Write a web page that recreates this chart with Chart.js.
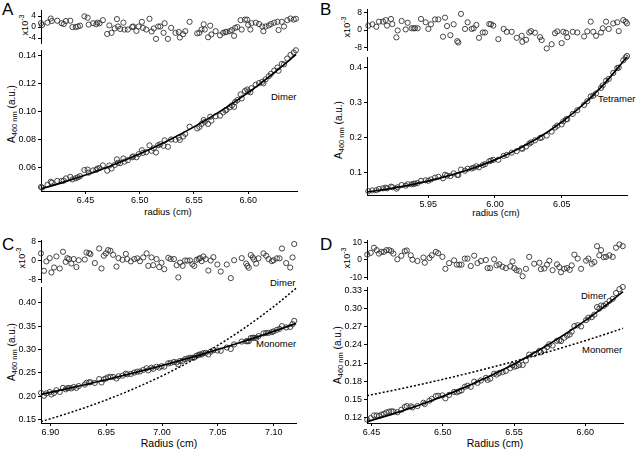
<!DOCTYPE html>
<html><head><meta charset="utf-8">
<script src="https://cdn.jsdelivr.net/npm/chart.js@4/dist/chart.umd.min.js"></script>
<style>
html,body{margin:0;padding:0;background:#fff;}
#fig{position:relative;width:636px;height:451px;overflow:hidden;font-family:"Liberation Sans",Arial,Helvetica,sans-serif;color:#000;}
canvas{position:absolute;}
.t{position:absolute;white-space:nowrap;line-height:1;}
.rot{transform:translate(-50%,-50%) rotate(-90deg);}
.ctr{transform:translate(-50%,-50%);}
.lbl{transform:translateY(-50%);font-size:9.5px;}
.pl{font-size:17px;}
.yt{font-size:10px;}
.yt sub{font-size:7.5px;vertical-align:-2px;}
.rt{font-size:9px;}
.rt sup{font-size:7px;vertical-align:4px;}
</style></head>
<body><div id="fig">
<div class="t pl" style="left:2px;top:1px">A</div>
<div class="t pl" style="left:320px;top:1px">B</div>
<div class="t pl" style="left:2px;top:236px">C</div>
<div class="t pl" style="left:320px;top:236px">D</div>

<div class="t rt rot" style="left:24px;top:25px">x10<sup>-3</sup></div>
<div class="t rt rot" style="left:346px;top:27px">x10<sup>-3</sup></div>
<div class="t rt rot" style="left:21px;top:258px">x10<sup>-3</sup></div>
<div class="t rt rot" style="left:346px;top:258px">x10<sup>-3</sup></div>

<div class="t yt rot" style="left:13px;top:114px">A<sub>460 nm</sub> (a.u.)</div>
<div class="t yt rot" style="left:340px;top:130px">A<sub>460 nm</sub> (a.u.)</div>
<div class="t yt rot" style="left:13px;top:352px">A<sub>460 nm</sub> (a.u.)</div>
<div class="t yt rot" style="left:339px;top:355px">A<sub>460 nm</sub> (a.u.)</div>

<div class="t ctr" style="left:168px;top:212px;font-size:9.5px">radius (cm)</div>
<div class="t ctr" style="left:496px;top:213px;font-size:9.5px">radius (cm)</div>
<div class="t ctr" style="left:169px;top:443px;font-size:10.5px">Radius (cm)</div>
<div class="t ctr" style="left:495px;top:443px;font-size:10.5px">Radius (cm)</div>

<div class="t lbl" style="left:271px;top:97px">Dimer</div>
<div class="t lbl" style="left:598px;top:99px">Tetramer</div>
<div class="t lbl" style="left:270px;top:283px">Dimer</div>
<div class="t lbl" style="left:256px;top:344px">Monomer</div>
<div class="t lbl" style="left:581px;top:296px">Dimer</div>
<div class="t lbl" style="left:582px;top:350px">Monomer</div>
</div>
<script>
// ---------------- Panel A (dimer) ----------------
const aRadius = [6.409,6.410,6.415,6.418,6.419,6.424,6.428,6.430,6.432,6.436,
 6.438,6.441,6.443,6.445,6.449,6.452,6.453,6.457,6.460,6.461,
 6.463,6.466,6.470,6.472,6.474,6.477,6.479,6.480,6.482,6.485,
 6.486,6.489,6.493,6.494,6.497,6.499,6.502,6.503,6.506,6.509,
 6.511,6.513,6.515,6.517,6.519,6.522,6.523,6.526,6.529,6.533,
 6.536,6.537,6.540,6.542,6.546,6.553,6.555,6.557,6.559,6.560,
 6.563,6.565,6.566,6.570,6.574,6.577,6.579,6.580,6.583,6.585,
 6.587,6.588,6.590,6.593,6.594,6.597,6.599,6.600,6.602,6.603,
 6.607,6.610,6.613,6.614,6.616,6.619,6.621,6.624,6.627,6.628,
 6.631,6.633,6.636,6.639,6.642,6.644];
const aResidual = [1.4,0.7,1.6,3.1,2.2,2.3,1.4,1.1,2.2,2.3,
 0.0,0.0,0.2,0.5,3.9,3.4,0.9,1.4,1.0,1.6,
 1.4,2.5,-2.5,0.6,-2.1,-0.5,2.9,0.2,-0.7,1.6,
 -0.9,-0.9,0.0,0.2,-1.4,0.2,1.9,-0.3,-0.9,3.0,
 -1.6,-0.5,-4.3,0.2,0.2,-2.1,1.4,-4.3,-0.3,-2.1,
 -1.8,-3.8,-2.6,-1.5,1.9,-2.3,-2.1,-0.9,1.0,-0.9,
 -3.7,0.5,-2.7,-1.5,-3.0,-2.1,-1.8,-1.8,-1.5,-1.1,
 -3.2,-0.3,0.0,2.5,-0.9,2.7,2.7,0.8,-0.9,1.4,
 1.6,1.1,0.2,-1.5,0.2,0.6,1.1,1.6,1.9,-1.1,
 1.9,0.2,2.5,3.1,2.7,3.0];
const aAbsorbance = [0.0460,0.0455,0.0475,0.0497,0.0490,0.0503,0.0503,0.0505,0.0521,0.0532,
 0.0514,0.0522,0.0529,0.0537,0.0581,0.0584,0.0562,0.0578,0.0582,0.0591,
 0.0595,0.0614,0.0576,0.0613,0.0592,0.0617,0.0657,0.0633,0.0630,0.0663,
 0.0641,0.0651,0.0672,0.0678,0.0672,0.0694,0.0722,0.0703,0.0708,0.0757,
 0.0718,0.0736,0.0706,0.0758,0.0765,0.0754,0.0793,0.0747,0.0799,0.0797,
 0.0812,0.0796,0.0820,0.0839,0.0890,0.0878,0.0889,0.0910,0.0938,0.0924,
 0.0910,0.0961,0.0934,0.0965,0.0969,0.0993,0.1006,0.1011,0.1029,0.1043,
 0.1032,0.1067,0.1080,0.1121,0.1092,0.1145,0.1156,0.1142,0.1136,0.1165,
 0.1190,0.1202,0.1211,0.1200,0.1228,0.1251,0.1268,0.1291,0.1313,0.1290,
 0.1339,0.1335,0.1377,0.1403,0.1420,0.1436];
const aFitX = [6.409,6.43,6.45,6.47,6.49,6.51,6.53,6.55,6.57,6.59,6.61,6.63,6.644];
const aFitDimer = [0.0446,0.0494,0.0545,0.0601,0.0663,0.0731,0.0806,0.0889,0.0980,0.1080,0.1191,0.1314,0.1406];
const aXTicks = [6.45,6.50,6.55,6.60];
const aYTicks = [0.06,0.08,0.10,0.12,0.14];
const aResTicks = [-4,0,4];

// ---------------- Panel B (tetramer) ----------------
const bRadius = [5.905,5.908,5.911,5.913,5.916,5.918,5.919,5.922,5.923,5.926,
 5.927,5.930,5.933,5.9345,5.9375,5.939,5.940,5.942,5.9445,5.948,
 5.950,5.952,5.955,5.9575,5.961,5.9625,5.964,5.9665,5.969,5.9717,
 5.9725,5.9745,5.9775,5.9795,5.9825,5.984,5.986,5.988,5.9908,5.9925,
 5.9957,5.997,5.9987,6.0025,6.0065,6.0088,6.0125,6.0163,6.020,6.0205,
 6.0233,6.0257,6.027,6.030,6.0338,6.035,6.0388,6.0425,6.045,6.0467,
 6.050,6.0512,6.0533,6.0542,6.0583,6.0617,6.0668,6.0692,6.0718,6.0737,
 6.0758,6.0795,6.0808,6.0833,6.0853,6.0887,6.0917,6.0928,6.0962,6.098,
 6.099];
const bResidual = [2.0,2.6,1.5,3.8,3.8,4.5,2.0,5.0,2.7,-3.3,
 -0.2,4.1,0.3,3.3,0.8,0.8,0.8,0.8,5.0,3.5,
 0.5,2.6,4.8,4.8,-3.0,5.6,1.8,-2.3,2.6,-5.0,
 -5.6,7.3,0.5,3.5,0.5,0.8,2.3,-3.5,-1.1,-1.1,
 2.7,2.6,2.0,-4.1,0.5,-0.8,-0.8,-3.5,-2.6,-5.3,
 -4.4,-1.1,-0.5,-1.2,-3.2,-4.5,-8.3,-6.4,-1.4,-0.6,
 -5.9,-0.8,-1.2,-3.2,-0.8,-1.1,-2.9,-0.6,3.8,-0.8,
 -2.6,-1.1,0.8,3.8,0.5,3.0,3.5,-0.5,4.5,3.8,
 3.0];
const bAbsorbance = [0.0475,0.0497,0.0503,0.0537,0.0555,0.0574,0.0555,0.0604,0.0588,0.0547,
 0.0585,0.0649,0.0632,0.0673,0.0671,0.0683,0.0691,0.0707,0.0769,0.0784,
 0.0771,0.0810,0.0860,0.0884,0.0840,0.0942,0.0919,0.0905,0.0981,0.0935,
 0.0938,0.1090,0.1058,0.1113,0.1121,0.1143,0.1185,0.1154,0.1217,0.1242,
 0.1327,0.1346,0.1366,0.1366,0.1478,0.1505,0.1571,0.1615,0.1696,0.1679,
 0.1745,0.1828,0.1862,0.1921,0.1988,0.2003,0.2057,0.2169,0.2285,0.2338,
 0.2376,0.2462,0.2518,0.2525,0.2673,0.2778,0.2929,0.3035,0.3172,0.3195,
 0.3256,0.3415,0.3486,0.3618,0.3669,0.3840,0.3980,0.3990,0.4200,0.4280,
 0.4322];
const bFitX = [5.904,5.92,5.94,5.96,5.98,6.00,6.02,6.04,6.06,6.08,6.099];
const bFitTetramer = [0.0450,0.0542,0.0683,0.0860,0.1084,0.1366,0.1722,0.2171,0.2736,0.3448,0.4292];
const bXTicks = [5.95,6.00,6.05];
const bYTicks = [0.1,0.2,0.3,0.4];
const bResTicks = [-8,-4,0,4,8];

// ---------------- Panel C (monomer) ----------------
const cRadius = [6.8916,6.8943,6.8964,6.8994,6.9009,6.9033,6.9054,6.9084,6.9113,6.9137,
 6.9152,6.9167,6.9188,6.9209,6.9233,6.9254,6.9308,6.9323,6.9347,6.9359,
 6.9398,6.9437,6.9458,6.9479,6.9497,6.9517,6.9538,6.9562,6.9592,6.9610,
 6.9646,6.9676,6.9688,6.9721,6.9751,6.9778,6.9802,6.9832,6.9862,6.9877,
 6.9906,6.9921,6.9951,6.9975,6.9996,7.0020,7.0056,7.0077,7.0107,7.0131,
 7.0146,7.0161,7.0185,7.0206,7.0227,7.0251,7.0272,7.0289,7.0310,7.0328,
 7.0340,7.0355,7.0370,7.0391,7.0415,7.0436,7.0460,7.0496,7.0526,7.0580,
 7.0616,7.0646,7.0714,7.0753,7.0765,7.0777,7.0795,7.0813,7.0825,7.0843,
 7.0864,7.0909,7.0933,7.0954,7.0984,7.0999,7.1029,7.1053,7.1074,7.1112,
 7.1148,7.1169,7.1184];
const cResidual = [3.0,-4.4,-0.4,1.0,-5.1,-3.0,1.7,-3.4,3.7,-0.6,
 1.0,0.6,-1.3,0.6,-2.8,0.1,0.4,3.4,3.1,2.7,
 -1.1,5.1,-3.4,2.0,3.0,4.4,4.1,2.4,-2.6,1.0,
 0.3,2.8,0.6,-0.4,0.6,0.9,-0.3,1.3,3.0,-2.3,
 1.3,-2.0,0.6,-2.8,-1.0,-3.7,1.1,0.6,0.6,-2.0,
 -7.2,-0.9,-2.3,0.0,-0.1,0.0,-1.6,-2.3,0.3,0.6,
 1.0,-0.3,1.7,0.6,-4.3,0.0,1.4,-1.7,-4.7,-1.7,
 -7.5,0.1,1.0,-1.3,-2.3,-3.1,2.3,1.3,0.4,-1.3,
 0.9,3.0,2.0,0.6,-0.3,0.1,0.9,0.9,5.1,-1.1,
 -3.0,1.3,7.0];
const cAbsorbance = [0.2067,0.2006,0.2057,0.2086,0.2033,0.2066,0.2124,0.2088,0.2175,0.2144,
 0.2168,0.2172,0.2164,0.2194,0.2173,0.2214,0.2246,0.2284,0.2295,0.2297,
 0.2281,0.2365,0.2292,0.2358,0.2378,0.2403,0.2413,0.2410,0.2377,0.2424,
 0.2438,0.2481,0.2466,0.2476,0.2504,0.2524,0.2527,0.2561,0.2597,0.2553,
 0.2608,0.2584,0.2629,0.2611,0.2642,0.2631,0.2703,0.2712,0.2731,0.2722,
 0.2680,0.2753,0.2755,0.2792,0.2806,0.2823,0.2822,0.2827,0.2867,0.2883,
 0.2895,0.2893,0.2923,0.2927,0.2895,0.2953,0.2985,0.2980,0.2972,0.3042,
 0.3011,0.3110,0.3171,0.3178,0.3178,0.3179,0.3247,0.3252,0.3252,0.3249,
 0.3288,0.3346,0.3355,0.3358,0.3374,0.3390,0.3423,0.3444,0.3503,0.3474,
 0.3485,0.3546,0.3616];
const cFitX = [6.8916,6.92,6.95,6.98,7.01,7.04,7.07,7.10,7.12];
const cFitMonomer = [0.2037,0.2183,0.2350,0.2529,0.2721,0.2928,0.3151,0.3391,0.3560];
const cFitDimer = [0.1450,0.1661,0.1916,0.2212,0.2552,0.2945,0.3399,0.3922,0.4315];
const cXTicks = [6.90,6.95,7.00,7.05,7.10];
const cYTicks = [0.15,0.20,0.25,0.30,0.35,0.40];
const cResTicks = [-8,-4,0,4,8];

// ---------------- Panel D (dimer) ----------------
const dRadius = [6.4470,6.4494,6.4517,6.4536,6.4552,6.4569,6.4587,6.4604,6.4623,6.4639,
 6.4653,6.4681,6.4709,6.4733,6.4747,6.4775,6.4787,6.4822,6.4864,6.4873,
 6.4906,6.4922,6.4951,6.4967,6.4997,6.5018,6.5044,6.5079,6.5098,6.5115,
 6.5131,6.5154,6.5173,6.5196,6.5220,6.5243,6.5267,6.5302,6.5314,6.5332,
 6.5360,6.5377,6.5396,6.5419,6.5442,6.5473,6.5489,6.5501,6.5517,6.5536,
 6.5560,6.5583,6.5606,6.5641,6.5677,6.5688,6.5712,6.5731,6.5747,6.5770,
 6.5801,6.5817,6.5829,6.5852,6.5871,6.5890,6.5904,6.5923,6.5946,6.5970,
 6.6005,6.6021,6.6045,6.6063,6.6082,6.6098,6.6110,6.6129,6.6145,6.6169,
 6.6192,6.6215,6.6239,6.6262];
const dResidual = [3.1,4.1,7.1,5.7,3.7,4.7,4.7,5.7,5.7,5.1,
 3.7,0.4,2.4,5.1,5.5,2.7,0.2,-0.6,1.4,-1.6,
 1.2,2.7,4.7,3.9,1.8,-5.1,-1.8,-0.2,-2.7,-2.7,
 -2.7,0.8,0.8,-3.5,2.5,-1.8,-0.6,0.0,-4.7,-4.7,
 0.4,-3.1,-2.5,-3.9,-4.7,-3.7,-0.8,-4.7,-5.9,-6.3,
 -9.4,-5.1,1.8,-2.2,-1.6,-5.3,-4.9,-2.7,-0.4,-5.9,
 -2.5,-4.1,-7.1,-5.1,-4.7,-5.7,-3.1,3.1,0.8,-5.1,
 -0.4,0.8,-2.2,-1.2,8.0,2.7,5.7,1.6,1.8,2.7,
 1.8,7.1,9.0,8.0];
const dAbsorbance = [0.1166,0.1193,0.1238,0.1237,0.1229,0.1251,0.1264,0.1286,0.1300,0.1306,
 0.1302,0.1290,0.1331,0.1377,0.1392,0.1387,0.1371,0.1392,0.1447,0.1425,
 0.1481,0.1510,0.1556,0.1562,0.1568,0.1519,0.1576,0.1625,0.1619,0.1635,
 0.1651,0.1709,0.1728,0.1709,0.1794,0.1775,0.1813,0.1857,0.1823,0.1843,
 0.1925,0.1910,0.1938,0.1951,0.1970,0.2017,0.2066,0.2041,0.2049,0.2069,
 0.2068,0.2141,0.2240,0.2246,0.2301,0.2279,0.2316,0.2365,0.2411,0.2389,
 0.2468,0.2475,0.2463,0.2518,0.2551,0.2570,0.2618,0.2710,0.2724,0.2704,
 0.2808,0.2847,0.2857,0.2898,0.3023,0.2998,0.3049,0.3042,0.3073,0.3125,
 0.3159,0.3255,0.3319,0.3354];
const dFitX = [6.4468,6.47,6.49,6.51,6.53,6.55,6.57,6.59,6.61,6.6264];
const dFitDimer = [0.1134,0.1301,0.1464,0.1647,0.1854,0.2087,0.2348,0.2643,0.2974,0.3277];
const dFitMonomer = [0.1563,0.1675,0.1778,0.1888,0.2004,0.2128,0.2259,0.2398,0.2545,0.2673];
const dXTicks = [6.45,6.50,6.55,6.60];
const dYTicks = [0.12,0.15,0.18,0.21,0.24,0.27,0.30,0.33];
const dResTicks = [-10,-5,0,5,10];

// ---------------- drawing helpers ----------------
const FONT = '"Liberation Sans", Arial, Helvetica, sans-serif';
const fig = document.getElementById('fig');
const PAD_L = 40, PAD_T = 8, PAD_R = 10, X_H = 24, RES_B = 6;

function pts(xs, ys) { return xs.map((x, i) => ({x: x, y: ys[i]})); }

function yAxis(min, max, ticks, dec, size) {
  return {
    type: 'linear', position: 'left', min: min, max: max,
    afterBuildTicks: s => { s.ticks = ticks.map(v => ({value: v})); },
    afterFit: s => { s.width = PAD_L; s.paddingTop = 0; s.paddingBottom = 0; },
    grid: {drawOnChartArea: false, drawTicks: true, tickLength: 3, color: '#000', lineWidth: 1},
    border: {display: true, color: '#000', width: 1},
    ticks: {padding: 2, color: '#000', font: {family: FONT, size: size}, callback: v => Number(v).toFixed(dec)}
  };
}
function xAxis(min, max, ticks, show) {
  return {
    type: 'linear', position: 'bottom', min: min, max: max, display: show,
    afterBuildTicks: s => { s.ticks = ticks.map(v => ({value: v})); },
    afterFit: s => { s.height = show ? X_H : 0; s.paddingLeft = 0; s.paddingRight = 0; },
    grid: {drawOnChartArea: false, drawTicks: true, tickLength: 3, color: '#000', lineWidth: 1},
    border: {display: true, color: '#000', width: 1},
    ticks: {padding: 1, color: '#000', maxRotation: 0, autoSkip: false, font: {family: FONT, size: 9}, callback: v => Number(v).toFixed(2)}
  };
}
function scatterSet(xs, ys) {
  return {data: pts(xs, ys), showLine: false, pointRadius: 2.6, pointHoverRadius: 2.6,
    pointBorderWidth: 0.9, borderColor: '#333', backgroundColor: 'rgba(0,0,0,0)',
    pointBackgroundColor: 'rgba(0,0,0,0)', clip: 6, order: 2};
}
function fitSet(xs, ys, dashed) {
  return {data: pts(xs, ys), showLine: true, pointRadius: 0, borderColor: '#000',
    borderWidth: dashed ? 1.5 : 1.7, borderDash: dashed ? [2, 2] : [],
    cubicInterpolationMode: 'monotone', fill: false, clip: 6, order: 0};
}
function plot(rect, xMin, xMax, xTicks, yMin, yMax, yTicks, dec, ySize, isMain, datasets) {
  const cv = document.createElement('canvas');
  const bottom = isMain ? X_H : RES_B;
  const w = Math.round(rect.r - rect.l + PAD_L + PAD_R);
  const h = Math.round(rect.b - rect.t + PAD_T + bottom);
  cv.width = w; cv.height = h;
  cv.style.left = (rect.l - PAD_L) + 'px';
  cv.style.top = (rect.t - PAD_T) + 'px';
  cv.style.width = w + 'px'; cv.style.height = h + 'px';
  fig.appendChild(cv);
  new Chart(cv, {
    type: 'scatter',
    data: {datasets: datasets},
    options: {
      responsive: false, animation: false, devicePixelRatio: 1, events: [],
      layout: {padding: {left: 0, top: PAD_T, right: PAD_R, bottom: isMain ? 0 : RES_B}},
      plugins: {legend: {display: false}, tooltip: {enabled: false}},
      scales: {
        x: xAxis(xMin, xMax, xTicks, isMain),
        y: yAxis(yMin, yMax, yTicks, dec, ySize)
      }
    }
  });
}

// Panel A
plot({l: 41, r: 297, t: 10, b: 43}, 6.409, 6.645, [], -5.8, 6.2, aResTicks, 0, 8.5, false,
  [scatterSet(aRadius, aResidual)]);
plot({l: 41, r: 297, t: 50, b: 191}, 6.409, 6.645, aXTicks, 0.0431, 0.1438, aYTicks, 2, 9, true,
  [fitSet(aFitX, aFitDimer, false), scatterSet(aRadius, aAbsorbance)]);
// Panel B
plot({l: 367, r: 627, t: 9, b: 50}, 5.904, 6.099, [], -9.0, 9.5, bResTicks, 0, 8.5, false,
  [scatterSet(bRadius, bResidual)]);
plot({l: 367, r: 627, t: 57, b: 195}, 5.904, 6.099, bXTicks, 0.0366, 0.4293, bYTicks, 1, 9, true,
  [fitSet(bFitX, bFitTetramer, false), scatterSet(bRadius, bAbsorbance)]);
// Panel C
plot({l: 41, r: 296, t: 240, b: 282}, 6.8916, 7.120, [], -9.15, 8.7, cResTicks, 0, 8.5, false,
  [scatterSet(cRadius, cResidual)]);
plot({l: 41, r: 296, t: 287, b: 423}, 6.8916, 7.120, cXTicks, 0.142, 0.4344, cYTicks, 2, 9, true,
  [fitSet(cFitX, cFitMonomer, false), fitSet(cFitX, cFitDimer, true), scatterSet(cRadius, cAbsorbance)]);
// Panel D
plot({l: 367, r: 623, t: 240, b: 279}, 6.4468, 6.6264, [], -11.0, 11.56, dResTicks, 0, 8.5, false,
  [scatterSet(dRadius, dResidual)]);
plot({l: 367, r: 623, t: 287, b: 423}, 6.4468, 6.6264, dXTicks, 0.1113, 0.3354, dYTicks, 2, 9, true,
  [fitSet(dFitX, dFitDimer, false), fitSet(dFitX, dFitMonomer, true), scatterSet(dRadius, dAbsorbance)]);
</script>
</body></html>
